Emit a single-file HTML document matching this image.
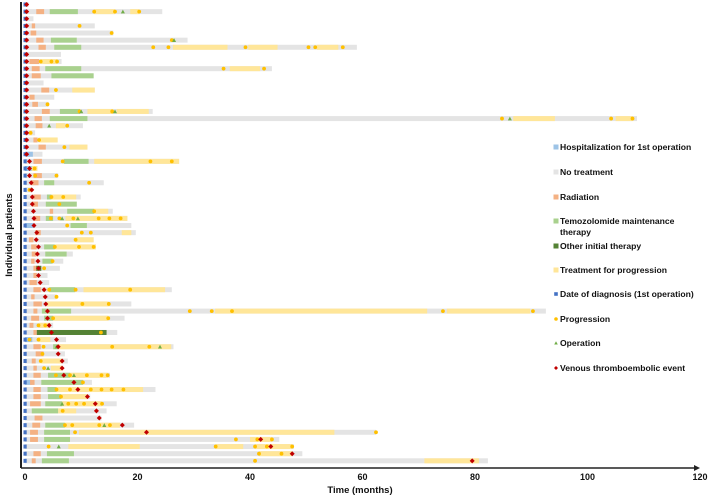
<!DOCTYPE html>
<html><head><meta charset="utf-8"><style>
body{margin:0;background:#fff}
svg{display:block;font-family:"Liberation Sans",Arial,sans-serif}
</style></head><body>
<svg id="chart" width="709" height="498" viewBox="0 0 709 498" xmlns="http://www.w3.org/2000/svg">
<g id="bars"></g>
<g id="marks"></g>
<line x1="21" y1="2" x2="21" y2="468" stroke="#222" stroke-width="2"/>
<line x1="21" y1="468" x2="695" y2="468" stroke="#222" stroke-width="1.5"/>
<polygon points="694,465 700,468 694,471" fill="#222"/>
<g id="ticks"></g>
<text x="360" y="493" font-size="9.5" font-weight="bold" text-anchor="middle" fill="#111">Time (months)</text>
<text transform="translate(12,235) rotate(-90)" font-size="9.5" font-weight="bold" text-anchor="middle" fill="#111">Individual patients</text>
<g id="legend"></g>
</svg>
<script>
const xTicks=[0,20,40,60,80,100,120];
const rowEnds=[0.6,24.4,1.5,12.4,15.7,28.9,59,6.4,6.5,43.9,12.2,3.3,12.4,5.2,4.2,22.7,108.8,10.3,1.8,5.8,11.1,3.1,27.4,2.2,5.9,14,1.2,9.9,9.2,15.6,18.2,18.9,19.7,12.2,12.6,8.5,6.8,6.2,4,4.3,26.1,5.6,18.9,92.6,17.7,5,16.4,7.3,26.4,7.1,7.6,6.6,15.1,11.9,23.2,11.6,16.3,14.5,13.6,19.4,62.4,45.2,47.8,49.3,82.3];
const hospitalization=[[22,0,1.4],[24,0,1.2],[32,0,1.5],[48,0,1.3],[54,0,1.2]];
const radiation=[[2,2,3.4],[4,1.2,1.8],[5,1,2],[6,2,3.3],[7,2.4,3.7],[9,0.8,2.5],[10,1.2,2.6],[11,1.2,2.8],[13,2.9,4.3],[14,0.8,1.7],[15,1.3,2.3],[16,3,4.4],[17,1.7,3],[18,1.9,3.1],[20,1.5,2.2],[21,2.4,3.7],[23,1.5,3],[25,1.5,3],[26,1.2,2.4],[28,1.5,2.8],[29,1.2,2.3],[30,4.4,5],[31,1.5,2.7],[33,1.8,2.8],[34,0.7,1.5],[35,1.1,2.1],[36,1.2,2],[37,1.1,1.7],[38,1.5,2.1],[39,1.5,2.1],[40,0.8,2.1],[41,1.5,2.8],[42,1.1,1.7],[43,1.5,3],[44,1.5,2.2],[45,1.1,2.5],[46,0.8,1.5],[47,1.5,2.1],[49,1.5,2.8],[50,1.9,3.3],[51,1.2,1.9],[52,1.5,2.1],[53,1.5,2.8],[54,0.9,1.7],[55,1.5,2.8],[56,1.5,2.8],[57,0.9,2.8],[59,1.7,3.1],[60,1.3,2.7],[61,0.9,2.3],[62,0.9,2.3],[64,1.5,2.8],[65,1.2,1.9]];
const temozolomide=[[2,4.4,9.4],[6,4.6,9.2],[7,5.2,10],[10,3.6,10],[11,4.7,12.2],[16,6.2,9.8],[17,4.4,11.1],[23,6.9,11.3],[26,3.4,5.2],[28,3.9,4.7],[29,3.7,9.2],[30,7.5,12.3],[31,3.7,5],[32,8.1,11],[35,3.4,5.3],[36,3.6,7.4],[37,3.1,4.9],[41,4.3,8.9],[44,3,8.2],[45,3.4,5],[49,5,5.9],[53,4.1,8],[54,2.9,10.3],[55,4,5.6],[56,4.1,6.4],[57,3.6,6.6],[58,1.2,5.9],[60,3.6,7.1],[61,3.4,8],[62,3.4,8],[64,3.9,8.7],[65,3,7.8]];
const otherTherapy=[[38,2,2.9],[47,2.1,14.5]];
const progTreatment=[[2,12.3,16],[2,18.7,20.3],[7,26.3,36],[7,39.7,44.9],[7,51.9,55.7],[9,2.8,5.7],[10,36.4,41.8],[13,8.4,12.4],[16,11.1,15.7],[16,16.3,22],[17,86.8,94.2],[17,105,108],[18,5.5,7.1],[19,0.8,1.2],[20,2.5,5.8],[21,7.9,11.1],[23,12.3,27.4],[24,1.2,2.2],[28,4.7,9.1],[30,12.3,14.8],[31,7.2,18.2],[33,17.2,18.9],[34,9,12.2],[35,5.3,12.6],[41,10.4,24.9],[43,3.9,14.9],[44,33.8,71.5],[44,75,89.8],[45,5,14.8],[46,2.5,4.5],[48,2.4,4.5],[49,5.9,26],[51,2.8,6.5],[52,4.6,6.6],[53,8,14.7],[55,5.6,21],[56,6.4,11.1],[57,6.6,13.7],[58,5.9,9.1],[60,7.1,16.9],[61,9.6,55],[62,40,43.9],[63,7.7,20.4],[63,33.9,38.8],[63,40.9,47.5],[64,41.6,47.5],[65,71,80.7]];
const progressionEvents=[[2,12.3],[2,16],[2,20.3],[4,9.7],[5,15.4],[6,26.1],[7,22.8],[7,25.5],[7,39.2],[7,50.4],[7,51.6],[7,56.5],[9,2.8],[9,4.7],[9,5.7],[10,35.3],[10,42.5],[13,5.5],[15,4],[16,9.7],[16,15.5],[17,84.8],[17,104.2],[17,108],[18,7.5],[19,1],[20,2.5],[21,7],[23,6.7],[23,22.3],[23,26.1],[24,1.7],[25,1.8],[25,5.6],[26,11.4],[27,0.8],[28,4.7],[28,6.8],[29,6.1],[30,12.3],[31,4.6],[31,6.1],[31,8.6],[31,13.1],[31,15],[31,17],[32,7.5],[33,10.1],[33,11.7],[34,9],[35,5.3],[35,9.6],[35,12.2],[37,4.9],[38,3.4],[41,4.3],[41,9],[41,18.7],[42,5.6],[43,10.2],[43,14.9],[44,29.3],[44,33.2],[44,36.8],[44,74.3],[44,90.3],[45,5],[45,14.8],[46,2.4],[46,3.6],[47,13.5],[48,0.8],[48,2.4],[49,3.3],[49,15.5],[49,22.1],[50,3.1],[51,2.8],[52,3.4],[53,5.5],[53,8],[53,11],[53,13.6],[53,14.7],[54,10.3],[55,5.6],[55,8],[55,11.7],[55,13.6],[55,15.4],[55,17.5],[56,6.4],[57,7.7],[57,9.1],[57,10.5],[57,13.7],[58,6.7],[60,7.1],[60,8.4],[60,13.2],[60,15.1],[61,8.9],[61,62.4],[62,37.5],[62,41.3],[62,43.9],[63,4.2],[63,33.9],[63,40.9],[63,43],[63,47.5],[64,41.6],[64,45.6],[65,40.9]];
const operationEvents=[[2,17.4],[6,26.5],[16,10],[16,16],[17,86.2],[18,4.3],[31,6.6],[31,9.4],[49,5.6],[49,24],[52,4.1],[53,8.7],[57,6.6],[60,14.1],[63,6]];
const vteTimes=[0.3,0.3,0.3,0.3,0.3,0.3,0.3,0.3,0.3,0.3,0.3,0.3,0.3,0.3,0.3,0.3,0.3,0.3,0.3,0.3,0.3,0.3,0.8,0.8,0.8,1.1,1.2,1.3,1.3,1.5,1.6,1.6,2.1,2,2.4,2.2,2.3,2.4,2.4,2.7,3.4,3.6,3.7,4,4,4.3,4.7,5.6,5.9,5.9,6.6,6.6,6.9,8.7,9.4,11.1,12.5,12.7,13.2,17.3,21.6,41.9,43.7,47.5,79.5];
const legendLabels=[["Hospitalization for 1st operation"],["No treatment"],["Radiation"],["Temozolomide maintenance","therapy"],["Other initial therapy"],["Treatment for progression"],["Date of diagnosis (1st operation)"],["Progression"],["Operation"],["Venous thromboembolic event"]];

const NS="http://www.w3.org/2000/svg";
const xs=m=>25+5.625*m;
const ys=r=>4.5+(r-1)*7.13;
const BH=5;
function mk(tag,attrs,parent){const e=document.createElementNS(NS,tag);for(const k in attrs)e.setAttribute(k,attrs[k]);parent.appendChild(e);return e;}
const bars=document.getElementById('bars'),marks=document.getElementById('marks');
rowEnds.forEach((end,i)=>{
  const r=mk('rect',{x:xs(0),y:ys(i+1)-BH/2,width:xs(end)-xs(0),height:BH,fill:'#e4e4e4'},bars);
  
  
});
function segs(arr,color,name){arr.forEach(([row,s,e])=>{
  const r=mk('rect',{x:xs(s),y:ys(row)-BH/2,width:Math.max(xs(e)-xs(s),1),height:BH,fill:color},bars);
  
  
});}
segs(hospitalization,'#9dc3e6','hospitalization-bar');
segs(radiation,'#f4b183','radiation-bar');
segs(temozolomide,'#a9d18e','temozolomide-bar');
segs(otherTherapy,'#548235','other-therapy-bar');
segs(progTreatment,'#ffe699','progression-treatment-bar');
rowEnds.forEach((end,i)=>{
  const d=mk('rect',{x:xs(0)-1.5,y:ys(i+1)-2,width:3.2,height:4,fill:'#4472c4'},marks);
  
  
});
progressionEvents.forEach(([row,t])=>{
  const c=mk('circle',{cx:xs(t),cy:ys(row),r:1.9,fill:'#ffc000'},marks);
  
  
});
operationEvents.forEach(([row,t])=>{
  const x=xs(t),y=ys(row);
  const p=mk('polygon',{points:`${x-2},${y+1.8} ${x+2},${y+1.8} ${x},${y-2}`,fill:'#70ad47'},marks);
  
  
});
vteTimes.forEach((t,i)=>{
  const x=xs(t),y=ys(i+1);
  const p=mk('polygon',{points:`${x},${y-2.5} ${x+2.5},${y} ${x},${y+2.5} ${x-2.5},${y}`,fill:'#c00000'},marks);
  
  
});
const ticks=document.getElementById('ticks');
xTicks.forEach(v=>{
  const t=mk('text',{x:xs(v),y:480,'font-size':9,'font-weight':'bold','text-anchor':'middle',fill:'#111'},ticks);
  t.textContent=v;
  
  
});
const legend=document.getElementById('legend');
const legY=[147,172,197,221,246,270,294,319,343,368];
const legKind=['sq','sq','sq','sq','sq','sq','sm','dot','tri','dia'];
const legCol=['#9dc3e6','#e4e4e4','#f4b183','#a9d18e','#548235','#ffe699','#4472c4','#ffc000','#70ad47','#c00000'];
legendLabels.forEach((lines,i)=>{
  const g=mk('g',{},legend);
  
  
  const y=legY[i],x=556,k=legKind[i];
  if(k==='sq')mk('rect',{x:x-2.5,y:y-2.5,width:5,height:5,fill:legCol[i]},g);
  else if(k==='sm')mk('rect',{x:x-1.8,y:y-1.8,width:3.6,height:3.6,fill:legCol[i]},g);
  else if(k==='dot')mk('circle',{cx:x,cy:y,r:1.8,fill:legCol[i]},g);
  else if(k==='tri')mk('polygon',{points:`${x-1.8},${y+1.5} ${x+1.8},${y+1.5} ${x},${y-1.8}`,fill:legCol[i]},g);
  else mk('polygon',{points:`${x},${y-2} ${x+2},${y} ${x},${y+2} ${x-2},${y}`,fill:legCol[i]},g);
  lines.forEach((ln,j)=>{
    const t=mk('text',{x:560,y:y+3+j*11,'font-size':8.6,'font-weight':'bold',fill:'#111'},g);
    t.textContent=ln;
  });
});
</script>
</body></html>
